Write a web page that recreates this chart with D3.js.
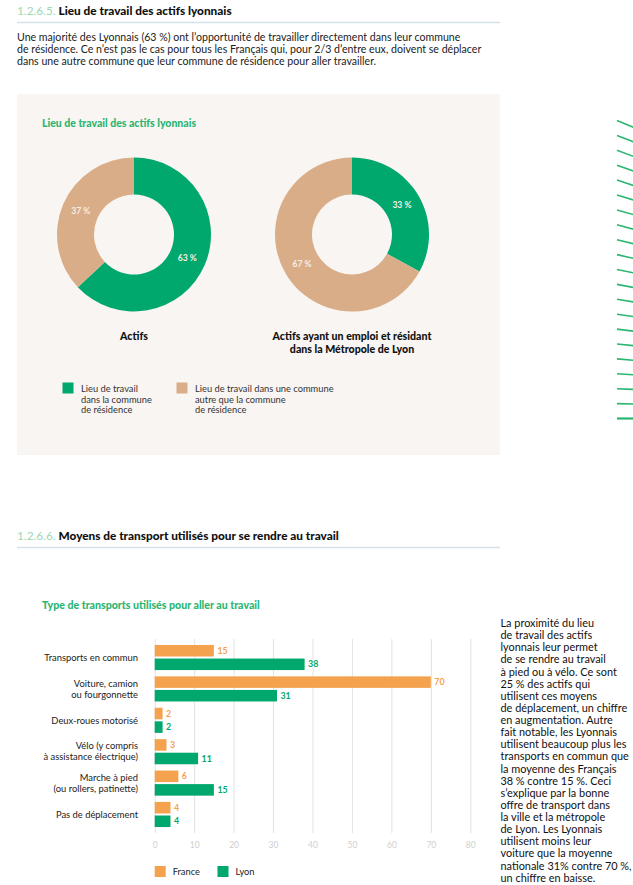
<!DOCTYPE html>
<html><head><meta charset="utf-8">
<script src="https://cdn.jsdelivr.net/npm/d3@7"></script>
<style>
html,body{margin:0;padding:0;background:#fff;}
svg{display:block;font-family:Lato,"Noto Sans",sans-serif;}
</style></head>
<body>
<div id="chart"></div>
<script>
// ---------- DATA ----------
const donutSeries = ["Lieu de travail dans la commune de résidence", "Lieu de travail dans une commune autre que la commune de résidence"];
const donutCaptions = [["Actifs"], ["Actifs ayant un emploi et résidant", "dans la Métropole de Lyon"]];
const donutActifs = [63, 37];
const donutResidents = [33, 67];
const donutLegendLines = [["Lieu de travail", "dans la commune", "de résidence"], ["Lieu de travail dans une commune", "autre que la commune", "de résidence"]];

const categories = ["Transports en commun", "Voiture, camion ou fourgonnette", "Deux-roues motorisé", "Vélo (y compris à assistance électrique)", "Marche à pied (ou rollers, patinette)", "Pas de déplacement"];
const categoryLines = [["Transports en commun"], ["Voiture, camion", "ou fourgonnette"], ["Deux-roues motorisé"], ["Vélo (y compris", "à assistance électrique)"], ["Marche à pied", "(ou rollers, patinette)"], ["Pas de déplacement"]];
const seriesNames = ["France", "Lyon"];
const franceValues = [15, 70, 2, 3, 6, 4];
const lyonValues = [38, 31, 2, 11, 15, 4];
const xTicks = [0, 10, 20, 30, 40, 50, 60, 70, 80];

const intro1 = ["Une majorité des Lyonnais (63\u202F%) ont l’opportunité de travailler directement dans leur commune", "de résidence. Ce n’est pas le cas pour tous les Français qui, pour 2/3 d’entre eux, doivent se déplacer", "dans une autre commune que leur commune de résidence pour aller travailler."];
const sideText = ["La proximité du lieu", "de travail des actifs", "lyonnais leur permet", "de se rendre au travail", "à pied ou à vélo. Ce sont", "25\u202F% des actifs qui", "utilisent ces moyens", "de déplacement, un chiffre", "en augmentation. Autre", "fait notable, les Lyonnais", "utilisent beaucoup plus les", "transports en commun que", "la moyenne des Français", "38\u202F% contre 15\u202F%. Ceci", "s’explique par la bonne", "offre de transport dans", "la ville et la métropole", "de Lyon. Les Lyonnais", "utilisent moins leur", "voiture que la moyenne", "nationale 31% contre 70\u202F%,", "un chiffre en baisse."];

// ---------- STYLE ----------
const GREEN = "#00a86d", TAN = "#d9ad88", ORANGE = "#f4a24e", TITLEGREEN = "#2bb673", NUMGREEN = "#9ed7b4";
const W = 633, H = 885;
const svg = d3.select("#chart").append("svg").attr("width", W).attr("height", H);

// ---------- Section headers ----------
function header(y, num, title) {
  const t = svg.append("text").attr("x", 17).attr("y", y).attr("font-size", 11.8);
  t.append("tspan").attr("fill", NUMGREEN).text(num + " ");
  t.append("tspan").attr("fill", "#111").attr("font-weight", 900).text(title);
  svg.append("line").attr("x1", 17).attr("x2", 500).attr("y1", y + 7.5).attr("y2", y + 7.5)
    .attr("stroke", "#d3e3ea").attr("stroke-width", 1.6);
}
header(15, "1.2.6.5.", "Lieu de travail des actifs lyonnais");
header(540, "1.2.6.6.", "Moyens de transport utilisés pour se rendre au travail");

svg.append("g").selectAll("text").data(intro1).join("text")
  .attr("x", 17).attr("y", (d, i) => 40.5 + i * 12).attr("font-size", 10.6).attr("fill", "#222").text(d => d);

// ---------- Decoration ----------
const deco = d3.range(21);
svg.append("g").selectAll("line").data(deco).join("line")
  .attr("x1", 617).attr("x2", 634)
  .attr("y1", i => 120.5 + i * 14.9)
  .attr("y2", i => 120.5 + i * 14.9 + 7 * (1 - i / 20))
  .attr("stroke", TITLEGREEN).attr("stroke-width", i => i === 20 ? 2.2 : 1.6);

// ---------- Panel & donuts ----------
svg.append("rect").attr("x", 17).attr("y", 94).attr("width", 483).attr("height", 361).attr("fill", "#f8f5f2");
svg.append("text").attr("x", 42).attr("y", 127).attr("font-size", 10.5).attr("font-weight", 900)
  .attr("fill", TITLEGREEN).text("Lieu de travail des actifs lyonnais");

const pie = d3.pie().sort(null).value(d => d);
const arc = d3.arc().innerRadius(40).outerRadius(77);
const labelArc = d3.arc().innerRadius(58).outerRadius(58);
const donutColor = d3.scaleOrdinal().domain([0, 1]).range([GREEN, TAN]);
const donuts = [{cx: 134, data: donutActifs}, {cx: 352, data: donutResidents}];
donuts.forEach((dn, k) => {
  const g = svg.append("g").attr("transform", `translate(${dn.cx},234.5)`);
  const arcs = pie(dn.data);
  g.selectAll("path").data(arcs).join("path").attr("d", arc).attr("fill", (d, i) => donutColor(i));
  g.selectAll("text").data(arcs).join("text")
    .attr("transform", d => `translate(${labelArc.centroid(d)})`)
    .attr("text-anchor", "middle").attr("dy", "0.35em")
    .attr("font-size", 8.6).attr("font-weight", 700).attr("fill", "#f6efe4")
    .text(d => d.value + " %");
  svg.append("g").selectAll("text").data(donutCaptions[k]).join("text")
    .attr("x", dn.cx).attr("y", (d, i) => 339.5 + i * 13).attr("text-anchor", "middle")
    .attr("font-size", 10.6).attr("font-weight", 900).attr("fill", "#111").text(d => d);
});

// donut legend
const legX = [62.5, 176.5];
donutSeries.forEach((s, k) => {
  svg.append("rect").attr("x", legX[k]).attr("y", 382.5).attr("width", 11).attr("height", 11).attr("fill", donutColor(k));
  svg.append("g").selectAll("text").data(donutLegendLines[k]).join("text")
    .attr("x", legX[k] + 18.5).attr("y", (d, i) => 392 + i * 10.6)
    .attr("font-size", 9.3).attr("fill", "#333").text(d => d);
});

// ---------- Bar chart ----------
svg.append("text").attr("x", 42).attr("y", 609).attr("font-size", 10.6).attr("font-weight", 900)
  .attr("fill", TITLEGREEN).text("Type de transports utilisés pour aller au travail");

const x = d3.scaleLinear().domain([0, 80]).range([154.7, 470.3]);
const y0 = d3.scaleBand().domain(categories).range([639, 833]).paddingInner(0.2).paddingOuter(0.19);
const y1 = d3.scaleBand().domain(seriesNames).range([0, y0.bandwidth()]).paddingInner(0.15);
const barColor = d3.scaleOrdinal().domain(seriesNames).range([ORANGE, GREEN]);

const xAxis = d3.axisBottom(x).tickValues(xTicks).tickSize(-(833 - 639)).tickPadding(9);
const ax = svg.append("g").attr("transform", "translate(0,833)").call(xAxis);
ax.select(".domain").remove();
ax.selectAll(".tick line").attr("stroke", "#e2e2e2").attr("stroke-width", 1);
ax.selectAll(".tick text").attr("fill", "#cfcfcf").attr("font-size", 8.5).attr("font-family", "Lato, sans-serif");

const rows = categories.map((c, i) => ({cat: c, vals: [{s: "France", v: franceValues[i]}, {s: "Lyon", v: lyonValues[i]}]}));
const grp = svg.append("g").selectAll("g").data(rows).join("g")
  .attr("transform", d => `translate(0,${y0(d.cat)})`);
grp.selectAll("rect").data(d => d.vals).join("rect")
  .attr("x", x(0)).attr("y", d => y1(d.s)).attr("width", d => x(d.v) - x(0)).attr("height", y1.bandwidth())
  .attr("fill", d => barColor(d.s));
grp.selectAll("text.val").data(d => d.vals).join("text").attr("class", "val")
  .attr("x", d => x(d.v) + 3.5).attr("y", d => y1(d.s) + y1.bandwidth() / 2).attr("dy", "0.35em")
  .attr("font-size", 8.8).attr("font-weight", 700).attr("fill", d => barColor(d.s)).text(d => d.v);

categoryLines.forEach((lines, i) => {
  const cy = y0(categories[i]) + y0.bandwidth() / 2;
  svg.append("g").selectAll("text").data(lines).join("text")
    .attr("x", 138).attr("y", (d, j) => cy + (j - (lines.length - 1) / 2) * 11).attr("dy", "0.35em")
    .attr("text-anchor", "end").attr("font-size", 9.4).attr("fill", "#222").text(d => d);
});

// bar legend
const blX = [154.7, 217.5];
seriesNames.forEach((s, k) => {
  svg.append("rect").attr("x", blX[k]).attr("y", 866).attr("width", 11).attr("height", 11).attr("fill", barColor(s));
  svg.append("text").attr("x", blX[k] + 18).attr("y", 871.5).attr("dy", "0.35em").attr("font-size", 9.3).attr("fill", "#222").text(s);
});

// side text
svg.append("g").selectAll("text").data(sideText).join("text")
  .attr("x", 500.5).attr("y", (d, i) => 627 + i * 12.13).attr("font-size", 10.9).attr("fill", "#111").text(d => d);
</script>
</body></html>
